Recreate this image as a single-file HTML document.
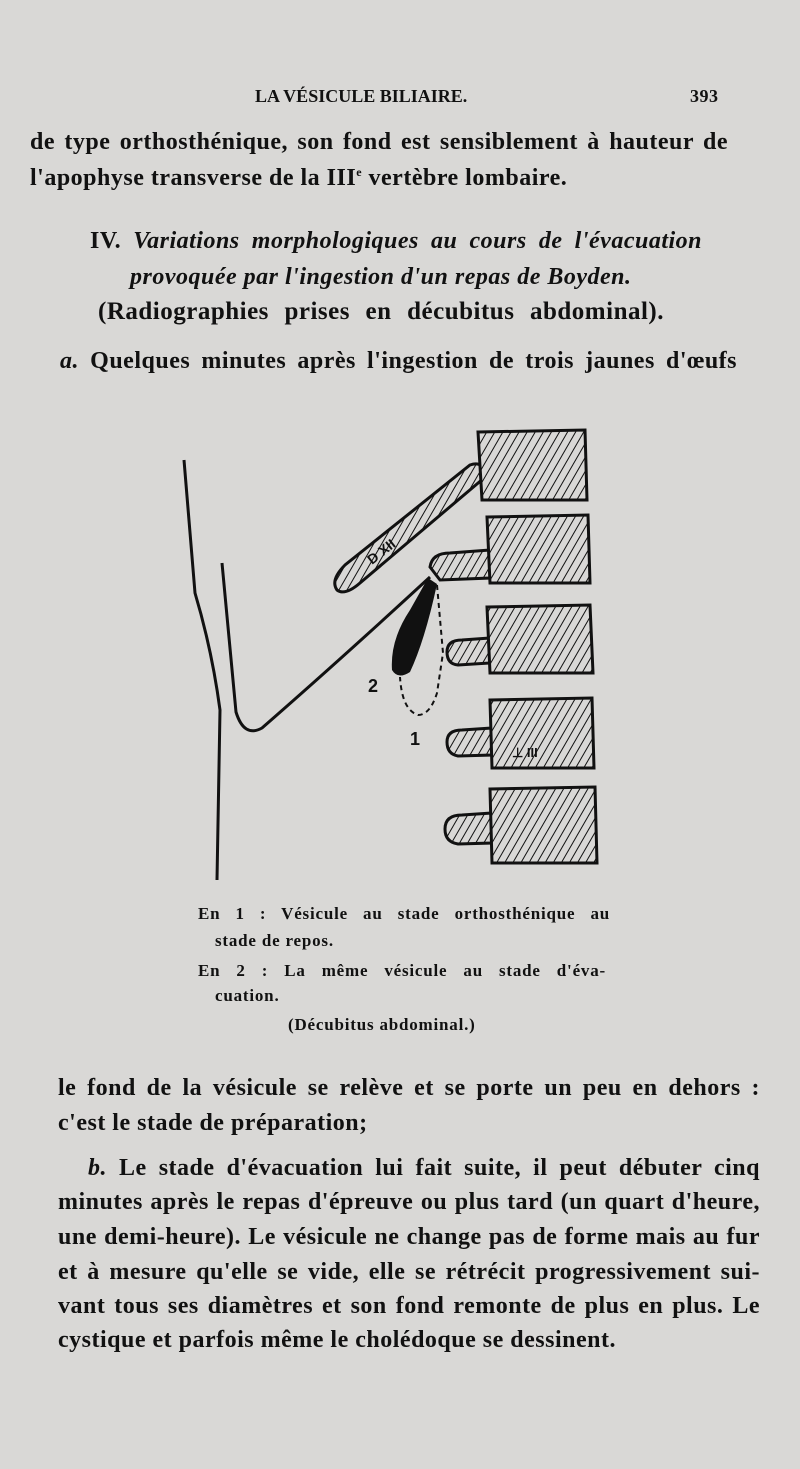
<!DOCTYPE html>
<html><head><meta charset="utf-8"><style>
html,body{margin:0;padding:0}
body{width:800px;height:1469px;background:#d9d8d6;position:relative;overflow:hidden;font-family:"Liberation Serif",serif;color:#111}
.t{position:absolute;white-space:nowrap;font-size:24px;letter-spacing:0.5px;font-weight:bold;line-height:1}
.c{position:absolute;white-space:nowrap;font-size:17px;letter-spacing:0.8px;font-weight:bold;line-height:1}
</style></head><body>
<div class="t" style="left:255px;top:87px;font-size:18px;letter-spacing:0">LA VÉSICULE BILIAIRE.</div>
<div class="t" style="left:690px;top:87px;font-size:18px">393</div>
<div class="t" style="left:30px;top:130px;width:698px;text-align:justify;text-align-last:justify">de type orthosthénique, son fond est sensiblement à hauteur de</div>
<div class="t" style="left:30px;top:166px">l'apophyse transverse de la III<sup style="font-size:12px">e</sup> vertèbre lombaire.</div>
<div class="t" style="left:90px;top:229px;width:612px;text-align:justify;text-align-last:justify">IV. <i>Variations morphologiques au cours de l'évacuation</i></div>
<div class="t" style="left:130px;top:265px;width:468px;text-align:justify;text-align-last:justify"><i>provoquée par l'ingestion d'un repas de Boyden.</i></div>
<div class="t" style="left:98px;top:299px;font-size:25px;width:566px;text-align:justify;text-align-last:justify">(Radiographies prises en décubitus abdominal).</div>
<div class="t" style="left:60px;top:349px;width:677px;text-align:justify;text-align-last:justify"><i>a.</i> Quelques minutes après l'ingestion de trois jaunes d'œufs</div>

<svg width="800" height="1469" style="position:absolute;left:0;top:0">
<defs>
<pattern id="h" width="7" height="7" patternUnits="userSpaceOnUse" patternTransform="rotate(30)">
<rect width="7" height="7" fill="#d9d8d6"/><line x1="0" y1="0" x2="0" y2="7" stroke="#111" stroke-width="2"/>
</pattern>
</defs>
<g stroke="#111" stroke-width="3" fill="none">
<path d="M184 460 L195 593 Q212 650 220 710 L217 880"/>
<path d="M222 563 L236 712 Q244 738 262 728 Q340 660 430 577"/>
</g>
<g stroke="#111" stroke-width="3" fill="url(#h)">
<path d="M337 590 Q330 580 345 565 L470 465 Q485 460 484 478 L360 583 Q345 596 337 590Z"/>
<path d="M430 567 Q432 553 450 553 L490 550 L490 578 L440 580 Z"/>
<path d="M447 652 Q447 640 462 640 L490 638 L490 663 L458 665 Q447 664 447 652Z"/>
<path d="M447 742 Q447 730 462 730 L492 728 L492 755 L458 756 Q447 754 447 742Z"/>
<path d="M445 829 Q445 815 462 815 L492 813 L492 843 L458 844 Q445 842 445 829Z"/>
<path d="M478 432 L585 430 L587 500 L482 500 Z"/>
<path d="M487 517 L588 515 L590 583 L490 583 Z"/>
<path d="M487 607 L590 605 L593 673 L490 673 Z"/>
<path d="M490 700 L592 698 L594 768 L492 768 Z"/>
<path d="M490 789 L595 787 L597 863 L492 863 Z"/>
</g>
<path d="M428 578 L437 584 Q425 640 410 672 Q398 680 392 670 Q390 640 410 610 Z" fill="#111"/>
<path d="M437 585 L443 653 L437 693 Q430 715 418 715 Q402 710 400 677" stroke="#111" stroke-width="2" stroke-dasharray="5,4" fill="none"/>
<text x="368" y="692" font-family="Liberation Sans" font-weight="bold" font-size="18" fill="#111">2</text>
<text x="410" y="745" font-family="Liberation Sans" font-weight="bold" font-size="18" fill="#111">1</text>
<text x="372" y="565" font-family="Liberation Sans" font-weight="bold" font-size="14" fill="#111" transform="rotate(-38 372 565)">D XII</text>
<text x="512" y="757" font-family="Liberation Sans" font-weight="bold" font-size="13" fill="#111">⊥ III</text>
</svg>

<div class="c" style="left:198px;top:905px;width:412px;text-align:justify;text-align-last:justify">En 1 : Vésicule au stade orthosthénique au</div>
<div class="c" style="left:215px;top:932px">stade de repos.</div>
<div class="c" style="left:198px;top:962px;width:408px;text-align:justify;text-align-last:justify">En 2 : La même vésicule au stade d'éva-</div>
<div class="c" style="left:215px;top:987px">cuation.</div>
<div class="c" style="left:288px;top:1016px">(Décubitus abdominal.)</div>

<div class="t" style="left:58px;top:1076px;width:702px;text-align:justify;text-align-last:justify">le fond de la vésicule se relève et se porte un peu en dehors :</div>
<div class="t" style="left:58px;top:1111px">c'est le stade de préparation;</div>
<div class="t" style="left:88px;top:1156px;width:672px;text-align:justify;text-align-last:justify"><i>b.</i> Le stade d'évacuation lui fait suite, il peut débuter cinq</div>
<div class="t" style="left:58px;top:1190px;width:702px;text-align:justify;text-align-last:justify">minutes après le repas d'épreuve ou plus tard (un quart d'heure,</div>
<div class="t" style="left:58px;top:1225px;width:702px;text-align:justify;text-align-last:justify">une demi-heure). Le vésicule ne change pas de forme mais au fur</div>
<div class="t" style="left:58px;top:1260px;width:702px;text-align:justify;text-align-last:justify">et à mesure qu'elle se vide, elle se rétrécit progressivement sui-</div>
<div class="t" style="left:58px;top:1294px;width:702px;text-align:justify;text-align-last:justify">vant tous ses diamètres et son fond remonte de plus en plus. Le</div>
<div class="t" style="left:58px;top:1328px">cystique et parfois même le cholédoque se dessinent.</div>
</body></html>
